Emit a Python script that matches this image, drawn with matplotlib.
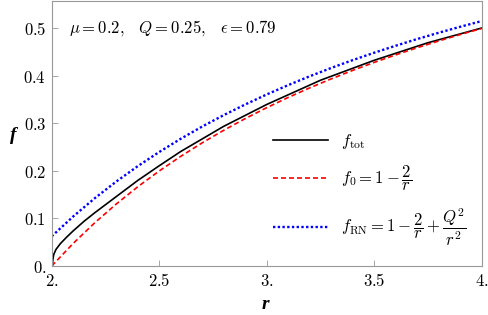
import matplotlib

matplotlib.use("Agg")
import matplotlib.pyplot as plt

plt.rcParams["mathtext.fontset"] = "cm"

# r grid and curves
r_grid = [2.0, 2.1, 2.2, 2.3, 2.4, 2.5, 2.6, 2.7, 2.8, 2.9, 3.0,
          3.1, 3.2, 3.3, 3.4, 3.5, 3.6, 3.7, 3.8, 3.9, 4.0]
f_zero = [0.0, 0.0476, 0.0909, 0.1304, 0.1667, 0.2, 0.2308, 0.2593, 0.2857, 0.3103, 0.3333,
          0.3548, 0.375, 0.3939, 0.4118, 0.4286, 0.4444, 0.4595, 0.4737, 0.4872, 0.5]
f_rn = [0.0625, 0.1043, 0.1426, 0.1777, 0.2101, 0.24, 0.2678, 0.2936, 0.3176, 0.34, 0.3611,
        0.3808, 0.3994, 0.4169, 0.4334, 0.449, 0.4637, 0.4778, 0.491, 0.5036, 0.5156]

r_tot = [2.003, 2.005, 2.008, 2.01, 2.02, 2.04, 2.07, 2.1, 2.15, 2.2, 2.3, 2.4, 2.5,
         2.6, 2.8, 3.0, 3.25, 3.5, 3.75, 4.0]
f_tot = [0.0, 0.012, 0.021, 0.025, 0.035, 0.047, 0.061, 0.074, 0.094, 0.112, 0.146, 0.180, 0.211,
         0.241, 0.294, 0.340, 0.391, 0.433, 0.470, 0.501]

x_ticks = [2.0, 2.5, 3.0, 3.5, 4.0]
x_labels = ["2.", "2.5", "3.", "3.5", "4."]
y_ticks = [0.0, 0.1, 0.2, 0.3, 0.4, 0.5]
y_labels = ["0.", "0.1", "0.2", "0.3", "0.4", "0.5"]

fig = plt.figure(figsize=(4.88, 3.15), dpi=100)
ax = fig.add_axes([0.106, 0.1556, 0.881, 0.8414])

ax.plot(r_tot, f_tot, color="black", lw=1.2, label=r"$f_{\mathrm{tot}}$")
ax.plot(r_grid, f_zero, color="red", lw=1.2, linestyle=(0, (3, 1.8)),
        label=r"$f_0=1-\dfrac{2}{r}$")
ax.plot(r_grid, f_rn, color="blue", lw=1.7, linestyle=(0, (1, 1)),
        label=r"$f_{\mathrm{RN}}=1-\dfrac{2}{r}+\dfrac{Q^2}{r^2}$")

ax.set_xlim(2.0, 4.0)
ax.set_ylim(0, 0.558)
ax.set_xticks(x_ticks)
ax.set_xticklabels(["$" + s + "$" for s in x_labels])
ax.set_yticks(y_ticks)
ax.set_yticklabels(["$" + s + "$" for s in y_labels])
ax.tick_params(direction="in", length=4, width=0.6, color="#999999",
               labelsize=12, pad=4)
for sp in ax.spines.values():
    sp.set_color("#999999")
    sp.set_linewidth(0.8)

ax.text(0.04, 0.935, r"$\mu=0.2,\;\;\; Q=0.25,\;\;\; \epsilon=0.79$",
        transform=ax.transAxes, fontsize=12, va="top", ha="left")

fig.text(0.027, 0.57, "f", family="Liberation Serif", style="italic",
         weight="bold", fontsize=14, ha="center", va="center")
fig.text(0.543, 0.032, "r", family="Liberation Serif", style="italic",
         weight="bold", fontsize=14, ha="center", va="center")

ax.legend(loc="lower left", bbox_to_anchor=(0.48, 0.01), frameon=False,
          fontsize=12, handlelength=3.3, handletextpad=0.75, labelspacing=0.8)

fig.savefig("out.png", dpi=100)
